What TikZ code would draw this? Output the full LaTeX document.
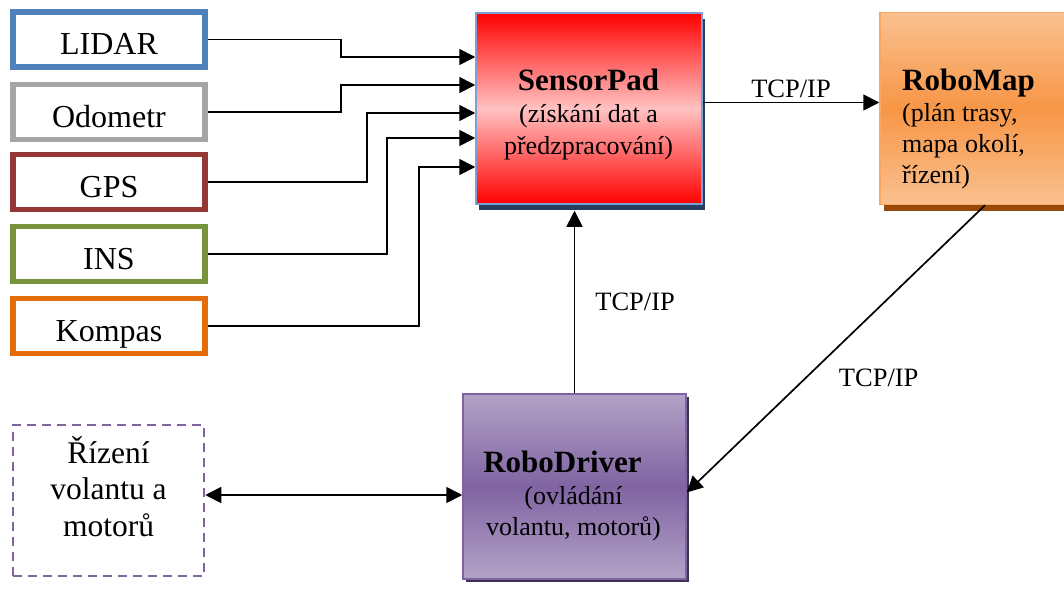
\documentclass[tikz,border=0pt]{standalone}
\usepackage{fontspec}
\setmainfont{Liberation Serif}
\usetikzlibrary{arrows.meta, positioning, calc, shadows}
\definecolor{lidarblue}{RGB}{79,129,189}
\definecolor{odogray}{RGB}{165,165,165}
\definecolor{gpsred}{RGB}{149,55,53}
\definecolor{insgreen}{RGB}{119,147,60}
\definecolor{kompasorange}{RGB}{228,108,10}
\definecolor{padred}{RGB}{255,0,0}
\definecolor{padpink}{RGB}{255,194,194}
\definecolor{padedge}{RGB}{125,160,210}
\definecolor{padshadow}{RGB}{36,63,96}
\definecolor{maplight}{RGB}{250,192,144}
\definecolor{maporange}{RGB}{247,150,70}
\definecolor{mapshadow}{RGB}{152,72,7}
\definecolor{drvlight}{RGB}{179,162,199}
\definecolor{drvpurple}{RGB}{128,100,162}
\definecolor{drvshadow}{RGB}{63,49,81}
\tikzset{
    sensor/.style={rectangle, draw=#1, line width=5.5pt, fill=white, minimum width=192pt, minimum height=55pt, text height=30pt, text depth=0pt, font=\fontsize{32}{36}\selectfont},
    module/.style={rectangle, line width=1.5pt, minimum width=226pt, minimum height=191pt},
    actuator/.style={rectangle, draw=drvpurple, line width=2.5pt, dash pattern=on 9pt off 6pt, minimum width=191pt, minimum height=151pt},
    modtext/.style={inner sep=0pt, font=\fontsize{26}{32}\selectfont},
    tcp/.style={inner sep=4pt, font=\fontsize{26.5}{30}\selectfont},
    feed/.style={->, line width=1.7pt},
    link/.style={->, line width=1.7pt},
}

\begin{document}
\begin{tikzpicture}[x=1pt, y=-1pt, >={Triangle[length=16pt, width=16pt]}]
    \useasboundingbox (0,0) rectangle (1064,589);
    % sensors on the left
    \foreach \name/\txt/\col/\y in {lidar/LIDAR/lidarblue/39.5, odometr/Odometr/odogray/112, gps/GPS/gpsred/182, ins/INS/insgreen/254, kompas/Kompas/kompasorange/326}
        \node[sensor=\col] (\name) at (109,\y) {\txt};
    % modules
    \node[module, draw=padedge, top color=padred, bottom color=padred, middle color=padpink,
          drop shadow={shadow xshift=3pt, shadow yshift=-6pt, fill=padshadow, opacity=1}] (sensorpad) at (589,108.5) {};
    \node[module, draw=maporange!85!white, minimum width=210pt, minimum height=192pt, top color=maplight, bottom color=maplight, middle color=maporange,
          drop shadow={shadow xshift=4pt, shadow yshift=-6pt, fill=mapshadow, opacity=1}] (robomap) at (985,108.5) {};
    \node[module, draw=drvpurple, minimum width=223pt, minimum height=185pt, top color=drvlight, bottom color=drvlight, middle color=drvpurple,
          drop shadow={shadow xshift=3pt, shadow yshift=-3pt, fill=drvshadow, opacity=1}] (robodriver) at (574.5,486.5) {};
    \node[actuator] (rizeni) at (108.5,500.5) {};
    % texts of the modules
    \node[modtext, align=center, anchor=north] (sensorpadtext) at (588.5,69)
        {{\fontsize{31}{32}\selectfont\bfseries SensorPad}\\(získání dat a\\předzpracování)};
    \node[modtext, align=left, anchor=north west, font=\fontsize{26}{31}\selectfont] (robomaptext) at (902,69)
        {{\fontsize{31}{31}\selectfont\bfseries RoboMap}\\(plán trasy,\\mapa okolí,\\řízení)};
    \node[modtext, align=center, anchor=north, font=\fontsize{26}{31.5}\selectfont] (robodrivertext) at (573.5,451)
        {{\fontsize{31}{31.5}\selectfont\bfseries RoboDriver}\hspace*{22pt}\\(ovládání\\volantu, motorů)};
    \node[modtext, align=center, anchor=north, font=\fontsize{31.5}{36.5}\selectfont] (rizenitext) at (108.5,436)
        {Řízení\\volantu a\\motorů};
    % sensor lines
    \foreach \name/\bend/\iny in {lidar/341/57, odometr/341/85, gps/367/113, ins/387/138, kompas/419/167}
        \draw[feed] (\name.east) -| (\bend,\iny) -- (sensorpad.west |- 0,\iny);
    % network links
    \draw[link] ([yshift=6pt]sensorpad.east) -- node[tcp, above] (tcpmap) {TCP/IP} ([yshift=6pt]robomap.west);
    \draw[link] (robodriver.north) -- node[tcp, right=16pt] (tcpdrv) {TCP/IP} ($(robodriver.north |- sensorpad.south)+(0,6)$);
    \draw[link] (robomap.south) -- node[tcp, pos=0.6, right=28pt] (tcpmapdrv) {TCP/IP} ([yshift=-6pt]robodriver.east);
    \coordinate (rizenijoint) at ([yshift=5.5pt]rizeni.east);
    \draw[link, <->] (rizenijoint) -- (rizenijoint -| robodriver.west);
\end{tikzpicture}
\end{document}
